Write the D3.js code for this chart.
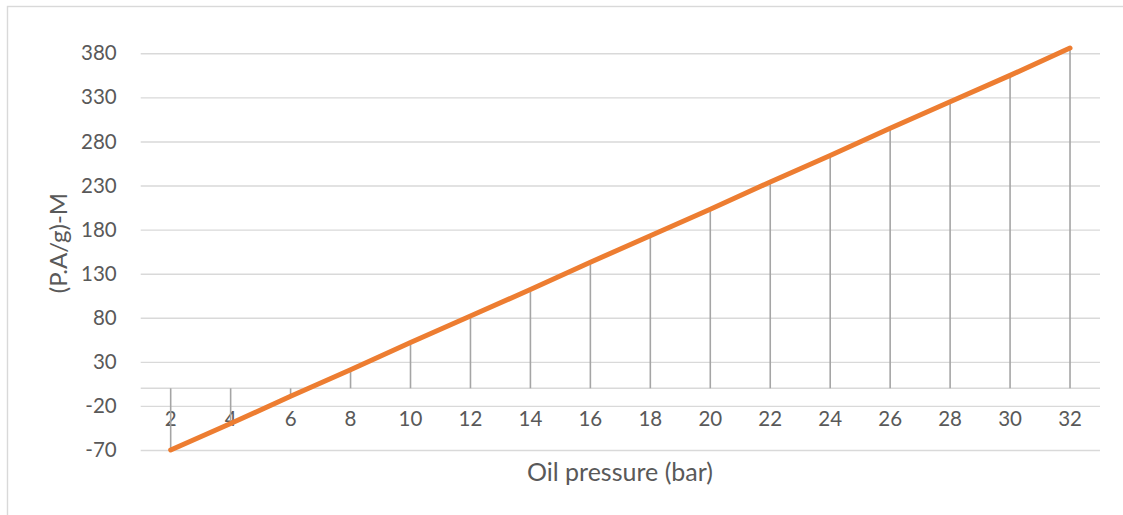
<!DOCTYPE html>
<html>
<head>
<meta charset="utf-8">
<script src="https://cdn.jsdelivr.net/npm/d3@7"></script>
<style>
  html, body { margin: 0; padding: 0; background: #fff; }
  svg { display: block; }
  text { font-family: Lato, "Open Sans", sans-serif; fill: #595959; }
</style>
</head>
<body>
<svg id="chart" width="1123" height="515"></svg>
<script>
// Oil pressure (bar) categories
const pressures = ["2", "4", "6", "8", "10", "12", "14", "16", "18", "20", "22", "24", "26", "28", "30", "32"];
// (P.A/g)-M value at each pressure
const values = [-70, -40, -9, 21, 52, 82, 112, 143, 173, 203, 234, 264, 295, 325, 355, 386];
// value axis ticks
const yTicks = [-70, -20, 30, 80, 130, 180, 230, 280, 330, 380];

const xTitle = "Oil pressure (bar)";
const yTitle = "(P.A/g)-M";

const svg = d3.select("#chart");
const plot = { left: 140.7, right: 1100, top: 53.3, bottom: 450 };

// outer chart frame
svg.append("rect")
  .attr("x", 7.5).attr("y", 6.5)
  .attr("width", 1200).attr("height", 600)
  .attr("fill", "none")
  .attr("stroke", "#d9d9d9")
  .attr("stroke-width", 1.4);

const x = d3.scaleBand().domain(pressures).range([plot.left, plot.right]);
const y = d3.scaleLinear().domain([yTicks[0], yTicks[yTicks.length - 1]]).range([plot.bottom, plot.top]);
const cx = d => x(d) + x.bandwidth() / 2;

// horizontal gridlines + value labels (plain hyphen for negatives)
const yAxis = d3.axisLeft(y)
  .tickValues(yTicks)
  .tickFormat(d => String(d))
  .tickSize(-(plot.right - plot.left))
  .tickPadding(24);
const gy = svg.append("g").attr("transform", `translate(${plot.left},0)`).call(yAxis);
gy.select(".domain").remove();
gy.selectAll(".tick line").attr("stroke", "#d9d9d9").attr("stroke-width", 1.4);
gy.selectAll(".tick text")
  .attr("font-size", "20.5px")
  .attr("fill", "#595959")
  .attr("font-family", "Lato, 'Open Sans', sans-serif");

// category axis crossing at zero
const xAxis = d3.axisBottom(x).tickSize(0).tickPadding(23);
const gx = svg.append("g").attr("transform", `translate(0,${y(0)})`).call(xAxis);
gx.select(".domain").attr("stroke", "#d9d9d9").attr("stroke-width", 1.4)
  .attr("d", `M${plot.left},0H${plot.right}`);
gx.selectAll(".tick text")
  .attr("font-size", "20.5px")
  .attr("fill", "#595959")
  .attr("font-family", "Lato, 'Open Sans', sans-serif");

// drop lines from each point to the category axis
svg.append("g").selectAll("line")
  .data(pressures)
  .join("line")
  .attr("x1", d => cx(d)).attr("x2", d => cx(d))
  .attr("y1", y(0))
  .attr("y2", (d, i) => y(values[i]))
  .attr("stroke", "#a5a5a5")
  .attr("stroke-width", 1.6);

// series line
const line = d3.line().x((d, i) => cx(pressures[i])).y(d => y(d));
svg.append("path")
  .datum(values)
  .attr("d", line)
  .attr("fill", "none")
  .attr("stroke", "#ed7d31")
  .attr("stroke-width", 5)
  .attr("stroke-linecap", "round")
  .attr("stroke-linejoin", "round");

// axis titles
svg.append("text")
  .attr("x", 620)
  .attr("y", 481)
  .attr("text-anchor", "middle")
  .attr("font-size", "25px")
  .text(xTitle);

svg.append("text")
  .attr("transform", "translate(66.5,243) rotate(-90)")
  .attr("text-anchor", "middle")
  .attr("font-size", "24px")
  .text(yTitle);
</script>
</body>
</html>
